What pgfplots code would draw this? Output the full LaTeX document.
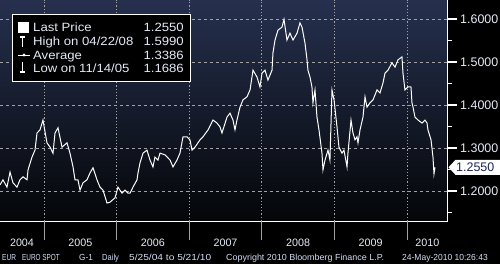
\documentclass[border=0pt]{standalone}
\usepackage{pgfplots}
\pgfplotsset{compat=1.18}
\usepackage{graphicx}
\usepackage{fontspec}
\setmainfont{Liberation Sans}
\newfontfamily\legfont[FakeStretch=1.1]{Liberation Sans}
\definecolor{bgtop}{RGB}{38,48,78}
\definecolor{bgmid}{RGB}{16,22,34}
\definecolor{bgbot}{RGB}{4,6,8}
\definecolor{txt}{RGB}{228,234,246}
\definecolor{foot}{RGB}{210,222,245}
\definecolor{navy}{RGB}{25,35,85}
\definecolor{gridc}{RGB}{160,160,165}
\begin{document}
\begin{tikzpicture}
\fill[black] (0bp,-43bp) rectangle (500bp,221bp);
\begin{axis}[
  at={(0bp,0bp)}, anchor=south west,
  scale only axis, width=447.7bp, height=221bp,
  xmin=2004.394, xmax=2010.561,
  ymin=1.1302, ymax=1.6442,
  axis background/.style={shade, top color=bgtop, middle color=bgmid, bottom color=bgbot},
  axis x line=bottom, axis y line=right,
  axis line style={white, -, line width=1bp},
  xtick={2005,2006,2007,2008,2009,2010}, xticklabels={},
  xtick style={draw=none},
  xmajorgrids, major x grid style={gridc, dash pattern=on 1.2bp off 2bp, line width=0.8bp},
  ytick={1.2,1.3,1.4,1.5,1.6},
  minor ytick={1.15,1.25,1.35,1.45,1.55},
  ymajorgrids, major y grid style={gridc, dash pattern=on 3bp off 3bp, line width=0.8bp},
  tick align=outside,
  major tick length=9bp, minor tick length=4bp,
  ytick style={white, line width=1.4bp},
  minor tick style={white, line width=0.8bp},
  yticklabel pos=right,
  yticklabel style={anchor=west, text=txt, font=\fontsize{12.5}{14}\selectfont,
     /pgf/number format/.cd, fixed, fixed zerofill, precision=4, assume math mode=true},
]
\addplot[white, line width=1bp] coordinates {
(2004.394,1.214) (2004.435,1.226) (2004.490,1.209) (2004.532,1.244) (2004.573,1.219)
(2004.628,1.209) (2004.669,1.226) (2004.711,1.233) (2004.766,1.226) (2004.780,1.249)
(2004.835,1.279) (2004.876,1.295) (2004.904,1.335) (2004.945,1.342) (2004.986,1.365)
(2005.041,1.312) (2005.083,1.302) (2005.124,1.288) (2005.152,1.335) (2005.193,1.347)
(2005.248,1.302) (2005.317,1.312) (2005.358,1.288) (2005.400,1.256) (2005.427,1.226)
(2005.468,1.226) (2005.496,1.202) (2005.537,1.219) (2005.592,1.226) (2005.634,1.242)
(2005.675,1.254) (2005.730,1.226) (2005.771,1.209) (2005.813,1.202) (2005.868,1.172)
(2005.909,1.174) (2005.978,1.184) (2006.019,1.209) (2006.074,1.195) (2006.116,1.202)
(2006.157,1.195) (2006.185,1.195) (2006.226,1.209) (2006.281,1.226) (2006.295,1.242)
(2006.322,1.265) (2006.364,1.288) (2006.419,1.295) (2006.460,1.272) (2006.501,1.256)
(2006.529,1.279) (2006.570,1.272) (2006.598,1.288) (2006.667,1.284) (2006.736,1.272)
(2006.777,1.256) (2006.832,1.272) (2006.873,1.288) (2006.915,1.326) (2006.970,1.326)
(2007.011,1.319) (2007.039,1.295) (2007.080,1.302) (2007.149,1.319) (2007.190,1.326)
(2007.259,1.342) (2007.328,1.365) (2007.383,1.358) (2007.424,1.349) (2007.452,1.335)
(2007.521,1.372) (2007.562,1.381) (2007.603,1.365) (2007.631,1.342) (2007.658,1.365)
(2007.700,1.395) (2007.741,1.412) (2007.796,1.419) (2007.838,1.435) (2007.879,1.481)
(2007.934,1.465) (2007.975,1.442) (2008.003,1.474) (2008.044,1.481) (2008.085,1.458)
(2008.141,1.481) (2008.154,1.521) (2008.182,1.551) (2008.223,1.574) (2008.278,1.581)
(2008.306,1.599) (2008.347,1.551) (2008.388,1.567) (2008.430,1.551) (2008.485,1.567)
(2008.526,1.591) (2008.554,1.581) (2008.595,1.544) (2008.623,1.505) (2008.636,1.481)
(2008.664,1.465) (2008.691,1.442) (2008.705,1.405) (2008.733,1.435) (2008.760,1.372)
(2008.788,1.342) (2008.829,1.288) (2008.843,1.249) (2008.871,1.272) (2008.912,1.295)
(2008.939,1.272) (2008.967,1.435) (2008.995,1.412) (2009.036,1.349) (2009.063,1.302)
(2009.105,1.288) (2009.132,1.295) (2009.174,1.256) (2009.187,1.288) (2009.229,1.365)
(2009.256,1.335) (2009.284,1.319) (2009.311,1.326) (2009.325,1.312) (2009.353,1.342)
(2009.394,1.372) (2009.422,1.419) (2009.449,1.395) (2009.490,1.405) (2009.532,1.412)
(2009.587,1.435) (2009.628,1.428) (2009.669,1.451) (2009.697,1.474) (2009.738,1.481)
(2009.793,1.498) (2009.835,1.488) (2009.876,1.505) (2009.931,1.512) (2009.945,1.474)
(2009.972,1.435) (2010.014,1.442) (2010.055,1.442) (2010.069,1.405) (2010.083,1.395)
(2010.110,1.372) (2010.152,1.365) (2010.207,1.358) (2010.248,1.365) (2010.276,1.358)
(2010.289,1.342) (2010.331,1.319) (2010.358,1.279) (2010.372,1.240) (2010.386,1.255)
};
\end{axis}
\begin{scope}[x=1bp,y=1bp]
% year separators below the axis
\foreach \xp in {44.0,116.6,189.2,261.8,334.4,407.0}{
  \draw[gridc, line width=0.8bp] (\xp,0) -- (\xp,-19);
}
% year labels
\foreach \xp/\lab in {22/2004,80.3/2005,152.9/2006,225.5/2007,298.1/2008,370.7/2009,427.4/2010}{
  \node[anchor=base, text=txt, font=\fontsize{10.8}{13}\selectfont, inner sep=0pt] at (\xp,-25) {\lab};
}
% last price tag (value 1.2550)
\fill[white] (448.5,53.7) -- (455.5,61.2) -- (500,61.2) -- (500,46.2) -- (455.5,46.2) -- cycle;
\node[text=navy, font=\fontsize{12.5}{14}\selectfont, anchor=west, inner sep=0pt] at (456,53.7) {1.2550};
% legend
\draw[white, fill=black, line width=0.9] (12,140) rectangle (190,207);
\fill[white] (18,188) rectangle (29,199);
\draw[white, line width=1.6] (20,184) -- (25,184);
\draw[white, line width=1] (22.5,184) -- (22.5,174);
\draw[white, line width=1] (18,166) -- (30,166);
\fill[white] (24,166) circle (1.7);
\draw[white, line width=1] (22.5,159) -- (22.5,149);
\draw[white, line width=1.6] (20,149) -- (25,149);
\begin{scope}[every node/.style={text=txt, font=\legfont\fontsize{12}{14}\selectfont, inner sep=0pt}]
\node[anchor=base west] at (33,189.3) {Last Price};
\node[anchor=base west] at (33,175.6) {High on 04/22/08};
\node[anchor=base west] at (33,162) {Average};
\node[anchor=base west] at (33,148.3) {Low on 11/14/05};
\node[anchor=base east] at (184,189.3) {1.2550};
\node[anchor=base east] at (184,175.6) {1.5990};
\node[anchor=base east] at (184,162) {1.3386};
\node[anchor=base east] at (184,148.3) {1.1686};
\end{scope}
% footer
\begin{scope}[every node/.style={text=foot, font=\fontsize{8.8}{10}\selectfont, inner sep=0pt, anchor=base west}]
\node at (2,-39) {\scalebox{0.75}[1]{EUR}};
\node at (22,-39) {\scalebox{0.73}[1]{EURO SPOT}};
\node at (79,-39) {\scalebox{0.93}[1]{G-1}};
\node at (102,-39) {\scalebox{0.86}[1]{Daily}};
\node at (129,-39) {\scalebox{1.16}[1]{5/25/04 to 5/21/10}};
\node at (226,-39) {\scalebox{1.02}[1]{Copyright 2010 Bloomberg Finance L.P.}};
\node at (402,-39) {\scalebox{0.97}[1]{24-May-2010 10:26:43}};
\end{scope}
\pgfresetboundingbox
\path[use as bounding box] (0,-43) rectangle (500,221);
\end{scope}
\end{tikzpicture}
\end{document}
